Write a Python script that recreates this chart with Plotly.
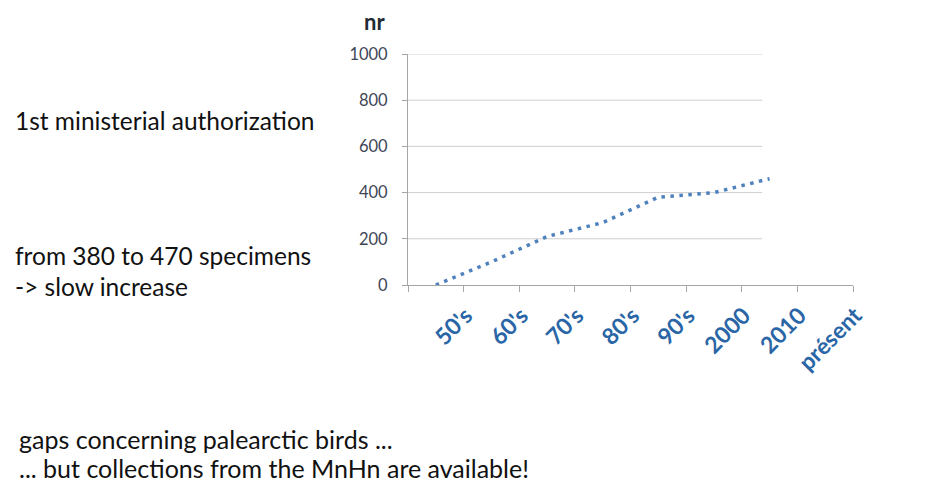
import plotly.graph_objects as go

# Collection size per period
periods = ["50's", "60's", "70's", "80's", "90's", "2000", "2010", "présent"]
specimens = [0, 100, 210, 270, 380, 400, 460, None]
y_ticks = [0, 200, 400, 600, 800, 1000]

W, H = 945, 484
L, R, T, B = 408, 92, 54, 199
PW, PH = W - L - R, H - T - B


def px(x, y):
    """Convert page pixel coordinates to paper coordinates."""
    return (x - L) / PW, (H - B - y) / PH


FONT = "Lato, 'Open Sans', sans-serif"

fig = go.Figure()
fig.add_trace(go.Scatter(
    x=periods, y=specimens, mode="lines", connectgaps=False,
    line=dict(color="#4f81bd", width=3.5, dash="3.5px,5.5px"),
    hoverinfo="skip", showlegend=False,
))

# horizontal gridlines stop short of the last categories
for v in y_ticks[1:]:
    fig.add_shape(type="line", xref="paper", yref="y", x0=0, x1=0.796, y0=v, y1=v,
                  line=dict(color="#cfcfcf", width=1), layer="below")

fig.update_xaxes(
    type="category", categoryorder="array", categoryarray=periods,
    range=[-0.5, len(periods) - 0.5],
    showgrid=False, showline=True, linecolor="#a6a6a6", linewidth=1,
    ticks="outside", tickson="boundaries", ticklen=6, tickcolor="#a6a6a6",
    tickangle=-45, ticklabelshift=30, ticklabelstandoff=7,
    tickfont=dict(family=FONT, size=23, color="#2a66a6", weight="bold"),
)
fig.update_yaxes(
    range=[0, 1000], tickvals=y_ticks, showgrid=False, zeroline=False,
    showline=True, linecolor="#a6a6a6", linewidth=1,
    ticks="outside", ticklen=5, tickcolor="#a6a6a6", ticklabelstandoff=11,
    tickfont=dict(family=FONT, size=16.5, color="#3e4657"),
)

notes = [
    ("1st ministerial authorization", 13, 121, 24.5),
    ("from 380 to 470 specimens", 13, 255, 24.5),
    ("-> slow increase", 13, 286, 24.5),
    ("gaps concerning palearctic birds ...", 17, 439, 25),
    ("... but collections from the MnHn are available!", 17, 468, 25),
]
for text, x, y, size in notes:
    ax, ay = px(x, y)
    fig.add_annotation(text=text, xref="paper", yref="paper", x=ax, y=ay,
                       xanchor="left", yanchor="middle", showarrow=False,
                       font=dict(family=FONT, size=size, color="#111111"))

nx, ny = px(374, 21)
fig.add_annotation(text="<b>nr</b>", xref="paper", yref="paper", x=nx, y=ny,
                   xanchor="center", yanchor="middle", showarrow=False,
                   font=dict(family=FONT, size=22, color="#222a35"))

fig.update_layout(
    width=W, height=H, margin=dict(l=L, r=R, t=T, b=B),
    paper_bgcolor="white", plot_bgcolor="white",
)

fig.write_html("out.html")
